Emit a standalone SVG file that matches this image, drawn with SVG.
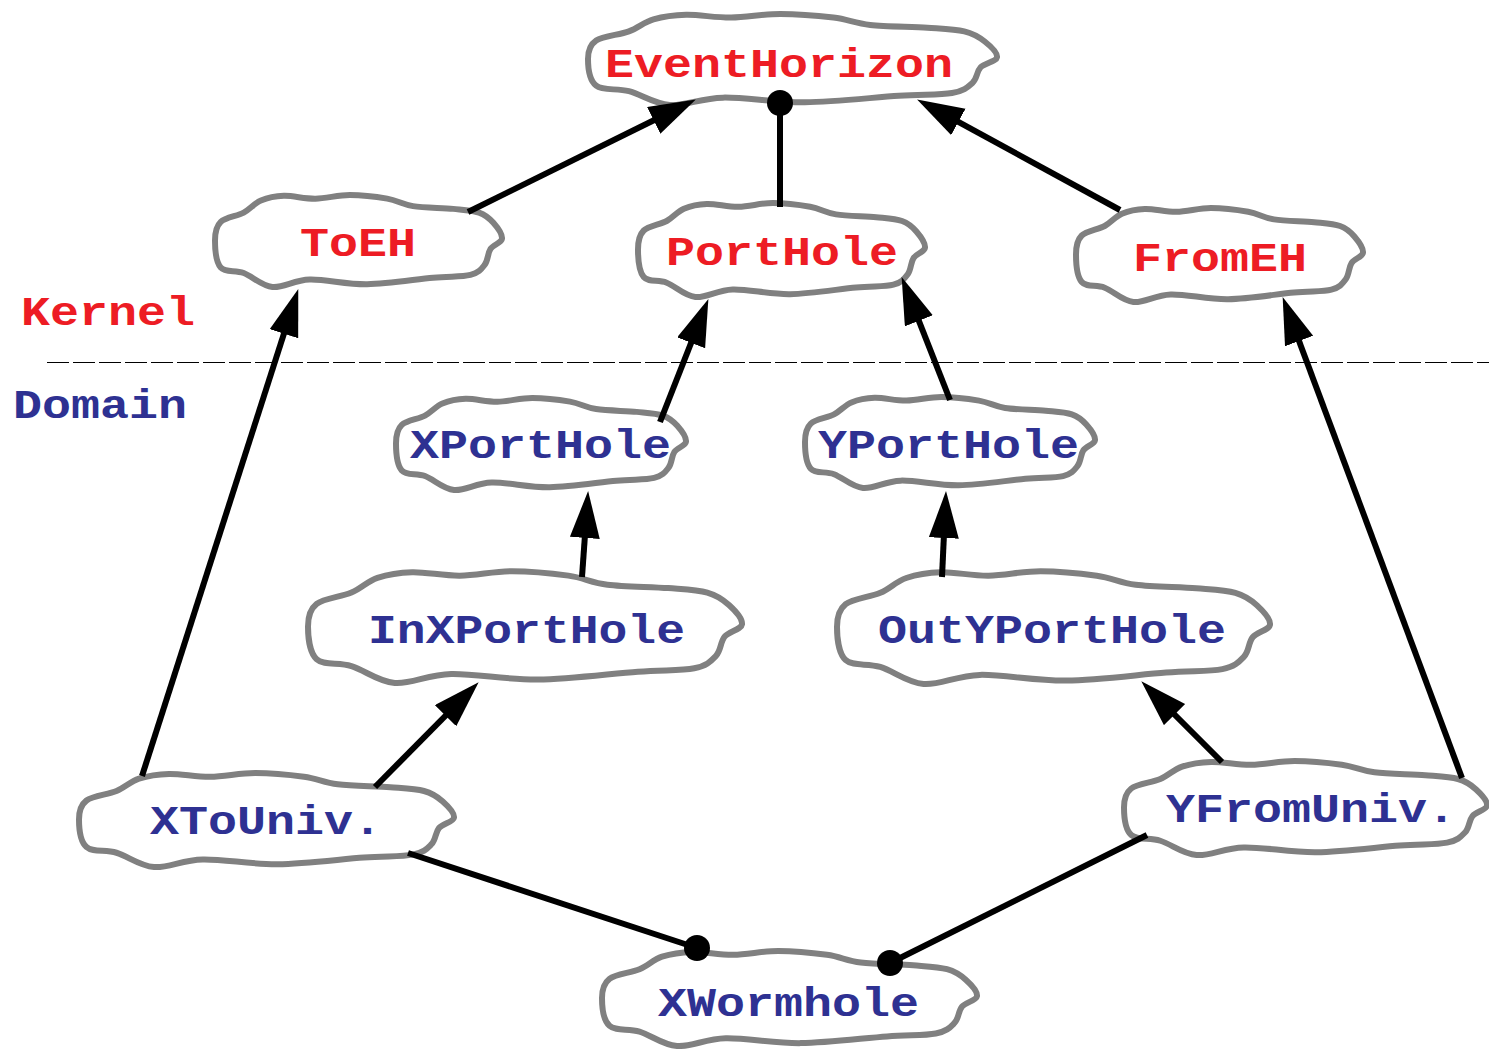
<svg xmlns="http://www.w3.org/2000/svg" xmlns:xlink="http://www.w3.org/1999/xlink" width="1489" height="1049" viewBox="0 0 1489 1049">
<style>
.cloud{fill:#fff;stroke:#808080;stroke-width:6;stroke-linejoin:round;vector-effect:non-scaling-stroke}
.t{font-family:"Liberation Mono","Courier New",monospace;font-weight:bold;font-size:41px}
.k{fill:#ed1c24}
.d{fill:#2e3192}
.edge{stroke:#000;stroke-width:6;fill:none}
.arr{marker-end:url(#ah)}
.dot{fill:#000}
</style>
<defs>
<path id="cl" class="cloud" d="M0,50 C0,41.83 0.33,35 2,30 C3.67,25 7.67,23.83 10,20 C12.33,16.17 13.67,10 16,7 C18.33,4 20.83,2.33 24,2 C27.17,1.67 31.17,5.17 35,5 C38.83,4.830 42.83,1 47,1 C51.17,1 56.33,3 60,5 C63.67,7 65.17,11.17 69,13 C72.83,14.83 79.17,14.83 83,16 C86.83,17.17 89.67,17.5 92,20 C94.33,22.5 95.67,26.33 97,31 C98.33,35.67 100.17,43.33 100,48 C99.83,52.67 97,54.33 96,59 C95,63.67 95.17,71.33 94,76 C92.83,80.67 92,84.67 89,87 C86,89.33 82,88.33 76,90 C70,91.67 60.17,96.67 53,97 C45.83,97.33 38.5,91.5 33,92 C27.5,92.5 23.830,101.17 20,100 C16.17,98.83 13,88.5 10,85 C7,81.5 3.67,84.83 2,79 C0.33,73.17 0,58.17 0,50 Z"/>
<marker id="ah" markerUnits="userSpaceOnUse" markerWidth="52" markerHeight="34" refX="34" refY="15" orient="auto"><path d="M0,0 L47,15 L0,30 z" fill="#000"/></marker>
</defs>
<line x1="47" y1="362.5" x2="1489" y2="362.5" stroke="#000" stroke-width="1" stroke-dasharray="22 4"/>
<text class="t k" x="21" y="325" textLength="174" lengthAdjust="spacingAndGlyphs">Kernel</text>
<text class="t d" x="13" y="418" textLength="174" lengthAdjust="spacingAndGlyphs">Domain</text>
<g id="EventHorizon"><use xlink:href="#cl" transform="translate(588,13) scale(4.09,0.92)"/><text class="t k" x="605" y="77" textLength="348" lengthAdjust="spacingAndGlyphs">EventHorizon</text></g>
<g id="ToEH"><use xlink:href="#cl" transform="translate(215,194) scale(2.87,0.93)"/><text class="t k" x="300" y="256" textLength="116" lengthAdjust="spacingAndGlyphs">ToEH</text></g>
<g id="PortHole"><use xlink:href="#cl" transform="translate(638,202) scale(2.87,0.95)"/><text class="t k" x="666" y="265" textLength="232" lengthAdjust="spacingAndGlyphs">PortHole</text></g>
<g id="FromEH"><use xlink:href="#cl" transform="translate(1076,207) scale(2.87,0.95)"/><text class="t k" x="1133" y="271" textLength="174" lengthAdjust="spacingAndGlyphs">FromEH</text></g>
<g id="XPortHole"><use xlink:href="#cl" transform="translate(396,397) scale(2.90,0.93)"/><text class="t d" x="410" y="458" textLength="261" lengthAdjust="spacingAndGlyphs">XPortHole</text></g>
<g id="YPortHole"><use xlink:href="#cl" transform="translate(805,396) scale(2.90,0.92)"/><text class="t d" x="818" y="458" textLength="261" lengthAdjust="spacingAndGlyphs">YPortHole</text></g>
<g id="InXPortHole"><use xlink:href="#cl" transform="translate(308,570) scale(4.34,1.13)"/><text class="t d" x="368" y="643" textLength="317" lengthAdjust="spacingAndGlyphs">InXPortHole</text></g>
<g id="OutYPortHole"><use xlink:href="#cl" transform="translate(837,570) scale(4.33,1.14)"/><text class="t d" x="878" y="643" textLength="348" lengthAdjust="spacingAndGlyphs">OutYPortHole</text></g>
<g id="XToUniv"><use xlink:href="#cl" transform="translate(79,772) scale(3.75,0.95)"/><text class="t d" x="150" y="834" textLength="232" lengthAdjust="spacingAndGlyphs">XToUniv.</text></g>
<g id="YFromUniv"><use xlink:href="#cl" transform="translate(1124,760) scale(3.63,0.95)"/><text class="t d" x="1166" y="822" textLength="290" lengthAdjust="spacingAndGlyphs">YFromUniv.</text></g>
<g id="XWormhole"><use xlink:href="#cl" transform="translate(602,950) scale(3.75,0.96)"/><text class="t d" x="658" y="1016" textLength="261" lengthAdjust="spacingAndGlyphs">XWormhole</text></g>
<g id="connectors">
<line class="edge arr" x1="468" y1="212" x2="684.2" y2="105.3"/>
<line class="edge arr" x1="1120" y1="210" x2="928.5" y2="105.7"/>
<line class="edge" x1="780" y1="207" x2="780" y2="103"/>
<circle class="dot" cx="780" cy="103" r="13"/>
<line class="edge arr" x1="660" y1="422" x2="703.6" y2="311.2"/>
<line class="edge arr" x1="950" y1="400" x2="906.4" y2="289.2"/>
<line class="edge arr" x1="582" y1="577" x2="587.2" y2="504"/>
<line class="edge arr" x1="942" y1="577" x2="945.4" y2="504"/>
<line class="edge arr" x1="142" y1="776" x2="294.3" y2="301.4"/>
<line class="edge arr" x1="375" y1="787" x2="469.5" y2="691.5"/>
<line class="edge arr" x1="1222" y1="762" x2="1150.5" y2="690.5"/>
<line class="edge arr" x1="1462" y1="778" x2="1287.2" y2="309.2"/>
<line class="edge" x1="408" y1="853" x2="697" y2="948"/>
<circle class="dot" cx="697" cy="948" r="13"/>
<line class="edge" x1="1147" y1="835" x2="890" y2="963"/>
<circle class="dot" cx="890" cy="963" r="13"/>
</g>
</svg>
